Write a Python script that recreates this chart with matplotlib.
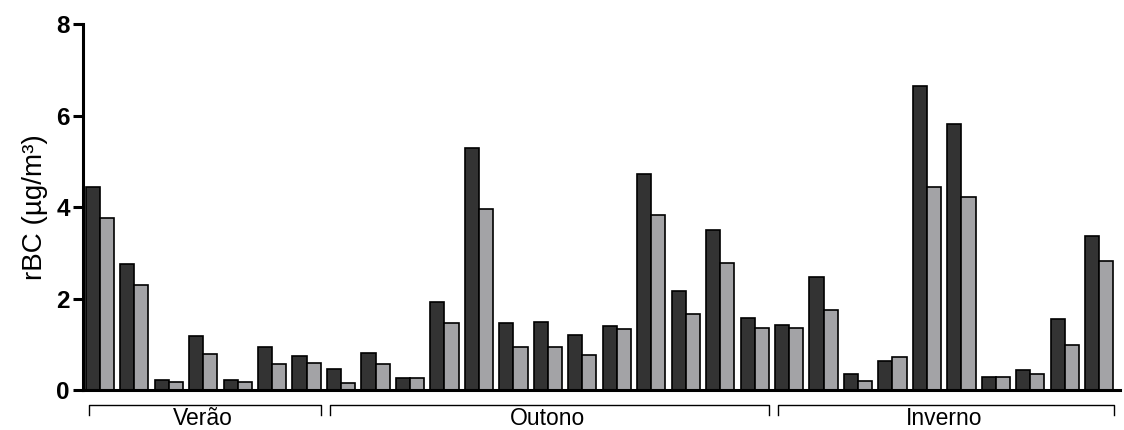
import matplotlib
matplotlib.use("Agg")
import matplotlib.pyplot as plt
import matplotlib.transforms as mtransforms
import numpy as np

plt.rcParams['font.family'] = ['Liberation Sans', 'DejaVu Sans']

# Data (rBC, µg/m³), pairs per sampling day
seasons = ["Verão", "Outono", "Inverno"]
season_counts = [7, 13, 10]
series_dark = [4.43, 2.75, 0.22, 1.19, 0.22, 0.94, 0.74,
               0.47, 0.82, 0.27, 1.92, 5.28, 1.46, 1.48, 1.20, 1.41, 4.73, 2.17, 3.49, 1.57,
               1.42, 2.48, 0.34, 0.63, 6.65, 5.81, 0.28, 0.43, 1.56, 3.37]
series_light = [3.77, 2.29, 0.17, 0.78, 0.17, 0.56, 0.58,
                0.16, 0.56, 0.27, 1.46, 3.95, 0.93, 0.94, 0.77, 1.33, 3.83, 1.67, 2.78, 1.36,
                1.35, 1.76, 0.20, 0.73, 4.44, 4.23, 0.29, 0.36, 0.98, 2.82]
yticks = [0, 2, 4, 6, 8]

fig = plt.figure(figsize=(11.24, 4.30), dpi=100)
ax = fig.add_axes([0.0738, 0.093, 0.9226, 0.851])

x = np.arange(len(series_dark))
w = 0.41
ax.bar(x - w / 2, series_dark, width=w, color="#333333", edgecolor="black", linewidth=1.2, zorder=2)
ax.bar(x + w / 2, series_light, width=w, color="#a3a3a6", edgecolor="black", linewidth=1.2, zorder=2)

ax.set_xlim(-0.49, 29.6)
ax.set_ylim(0, 8)
ax.set_yticks(yticks)
ax.set_yticklabels([str(t) for t in yticks], fontsize=17.5, fontweight="bold")
ax.set_xticks([])
ax.tick_params(axis="y", length=7.5, width=2.2, pad=2)
for s in ["top", "right"]:
    ax.spines[s].set_visible(False)
ax.spines["left"].set_linewidth(2.2)
ax.spines["bottom"].set_linewidth(2.2)
ax.set_ylabel("rBC (µg/m³)", fontsize=20, labelpad=6)

# season brackets below axis
trans = mtransforms.blended_transform_factory(ax.transData, ax.transAxes)
px_to_axes = 1.0 / (0.851 * 430)
start = 0
bracket_y = -14.5 * px_to_axes
tick_h = 10 * px_to_axes
text_base = -35 * px_to_axes
for name, n in zip(seasons, season_counts):
    x0 = start - 0.32
    x1 = start + n - 1 + 0.42
    ax.plot([x0, x0, x1, x1], [bracket_y - tick_h, bracket_y, bracket_y, bracket_y - tick_h],
            color="black", linewidth=1.0, transform=trans, clip_on=False)
    ax.text(start + (n - 1) / 2, text_base, name, transform=trans, ha="center", va="baseline",
            fontsize=16.5)
    start += n

fig.savefig("out.png", dpi=100)
